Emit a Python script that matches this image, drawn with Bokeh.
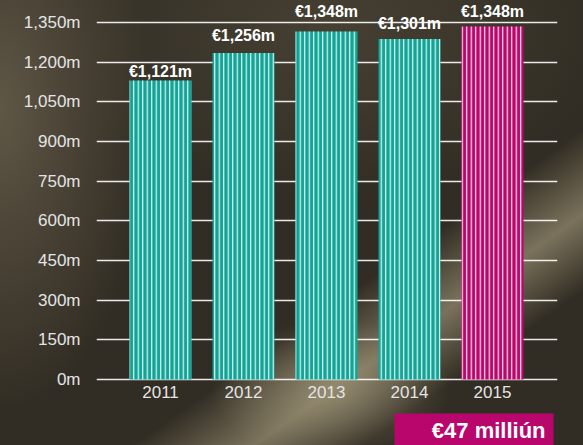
from bokeh.plotting import figure
from bokeh.models import FixedTicker, Range1d, ColumnDataSource, GlobalInlineStyleSheet
from bokeh.core.properties import value
from bokeh.embed import file_html
from bokeh.resources import INLINE

# ---- data ----
years = ["2011", "2012", "2013", "2014", "2015"]
bar_heights = [1131, 1235, 1316, 1288, 1335]          # bar tops as drawn
label_values = [1121, 1256, 1348, 1301, 1348]          # printed values
label_texts = ["€1,121m", "€1,256m", "€1,348m", "€1,301m", "€1,348m"]
y_ticks = [0, 150, 300, 450, 600, 750, 900, 1050, 1200, 1350]
y_tick_labels = ["0m", "150m", "300m", "450m", "600m", "750m", "900m", "1,050m", "1,200m", "1,350m"]
total_text = "€47 milliún"

TEAL = "#0fa496"
MAGENTA = "#b8066c"
bar_colors = [TEAL, TEAL, TEAL, TEAL, MAGENTA]
xs = list(range(len(years)))

css = GlobalInlineStyleSheet(css="""
html, body { margin:0; padding:0; }
body {
  background-color:#322d24;
  background-image:
    radial-gradient(ellipse 150px 300px at 0px 110px, rgba(125,115,92,0.6), rgba(125,115,92,0) 100%),
    radial-gradient(ellipse 120px 70px at 330px 390px, rgba(180,170,135,0.45), rgba(0,0,0,0) 100%),
    linear-gradient(145deg, rgba(0,0,0,0) 63%, rgba(170,160,128,0.6) 73%, rgba(0,0,0,0) 82%),
    radial-gradient(ellipse 280px 170px at 330px 30px, rgba(95,88,70,0.45), rgba(0,0,0,0) 100%);
  background-repeat:no-repeat;
  width:583px; height:445px; overflow:hidden;
}
""")

p = figure(width=583, height=445, output_backend="svg", toolbar_location=None,
           x_range=Range1d(-0.771, 4.783), y_range=Range1d(-249.6, 1433.2),
           min_border_left=96, min_border_right=26, min_border_top=0, min_border_bottom=0,
           stylesheets=[css])
p.background_fill_alpha = 0
p.border_fill_alpha = 0
p.outline_line_color = None
p.xaxis.visible = False
p.xgrid.visible = False

ticker = FixedTicker(ticks=y_ticks)
p.yaxis.ticker = ticker
p.yaxis.major_label_overrides = {t: l for t, l in zip(y_ticks, y_tick_labels)}
p.yaxis.axis_line_color = None
p.yaxis.major_tick_line_color = None
p.yaxis.minor_tick_line_color = None
p.yaxis.major_label_text_color = "#e4e4e4"
p.yaxis.major_label_text_font = "Liberation Sans"
p.yaxis.major_label_text_font_size = "17px"
p.yaxis.major_label_standoff = 10
p.ygrid.ticker = ticker
p.ygrid.grid_line_color = "#ffffff"
p.ygrid.grid_line_width = 1.5
p.ygrid.grid_line_alpha = 0.9

src = ColumnDataSource(dict(x=xs, top=bar_heights, color=bar_colors, year=years,
                            lv=label_values, lt=label_texts))
p.vbar(x="x", top="top", bottom=0, width=0.747, source=src, fill_color="color",
       line_color=None, hatch_pattern="vertical_line", hatch_color="#ffffff",
       hatch_scale=4.5, hatch_weight=1.2, hatch_alpha=0.9)

p.text(x="x", y="lv", text="lt", source=src, text_align="center", text_baseline="bottom",
       y_offset=-3, text_color="#ffffff", text_font=value("Liberation Sans"),
       text_font_style="bold", text_font_size="16px")

p.text(x="x", y=-49, text="year", source=src, text_align="center", text_baseline="middle",
       text_color="#e4e4e4", text_font=value("Liberation Sans"), text_font_size="17px")

p.quad(left=[2.819], right=[4.735], top=[-128.5], bottom=[-260], fill_color=MAGENTA,
       line_color=None)
p.text(x=[4.639], y=[-193], text=[total_text], text_align="right", text_baseline="middle",
       text_color="#ffffff", text_font=value("Liberation Sans"), text_font_style="bold",
       text_font_size="22px")

open("out.html", "w").write(file_html(p, INLINE))
